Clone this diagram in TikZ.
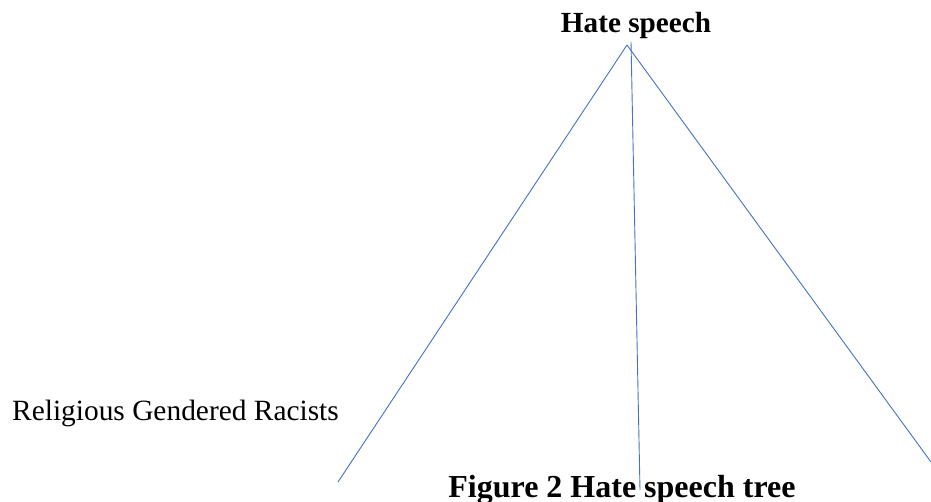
\documentclass[tikz,border=0pt]{standalone}
\usepackage{fontspec}
\setmainfont{Liberation Serif}
\usepackage{xcolor}
\definecolor{branchcolor}{RGB}{68,114,196}

\begin{document}
\begin{tikzpicture}[x=1pt, y=-1pt,
    branch/.style={draw=branchcolor, line width=0.9pt},
    treetext/.style={inner sep=0pt, anchor=base, font=\fontsize{29}{34}\selectfont}]
        \useasboundingbox (0,0) rectangle (931,501);
        % title and root of the tree
        \node[treetext, font=\fontsize{29.2}{34}\selectfont\bfseries] (root) at (636,32) {Hate speech};
        \coordinate (apex) at (627,45);
        \coordinate (apexmid) at (631,42);
        % ends of the branches
        \coordinate (leftend) at (338,482);
        \coordinate (midend) at (640,490);
        \coordinate (rightend) at (931,462);
        \draw[branch] (apex) -- (leftend);
        \draw[branch] (apexmid) -- (midend);
        \draw[branch] (apex) -- (rightend);
        % leaves and caption
        \node[treetext, anchor=base west, font=\fontsize{29.4}{34}\selectfont] (leaves) at (12,420) {Religious Gendered Racists};
        \node[treetext, font=\fontsize{32}{36}\selectfont\bfseries] (caption) at (622,497) {Figure 2 Hate speech tree};
      \end{tikzpicture}
\end{document}
